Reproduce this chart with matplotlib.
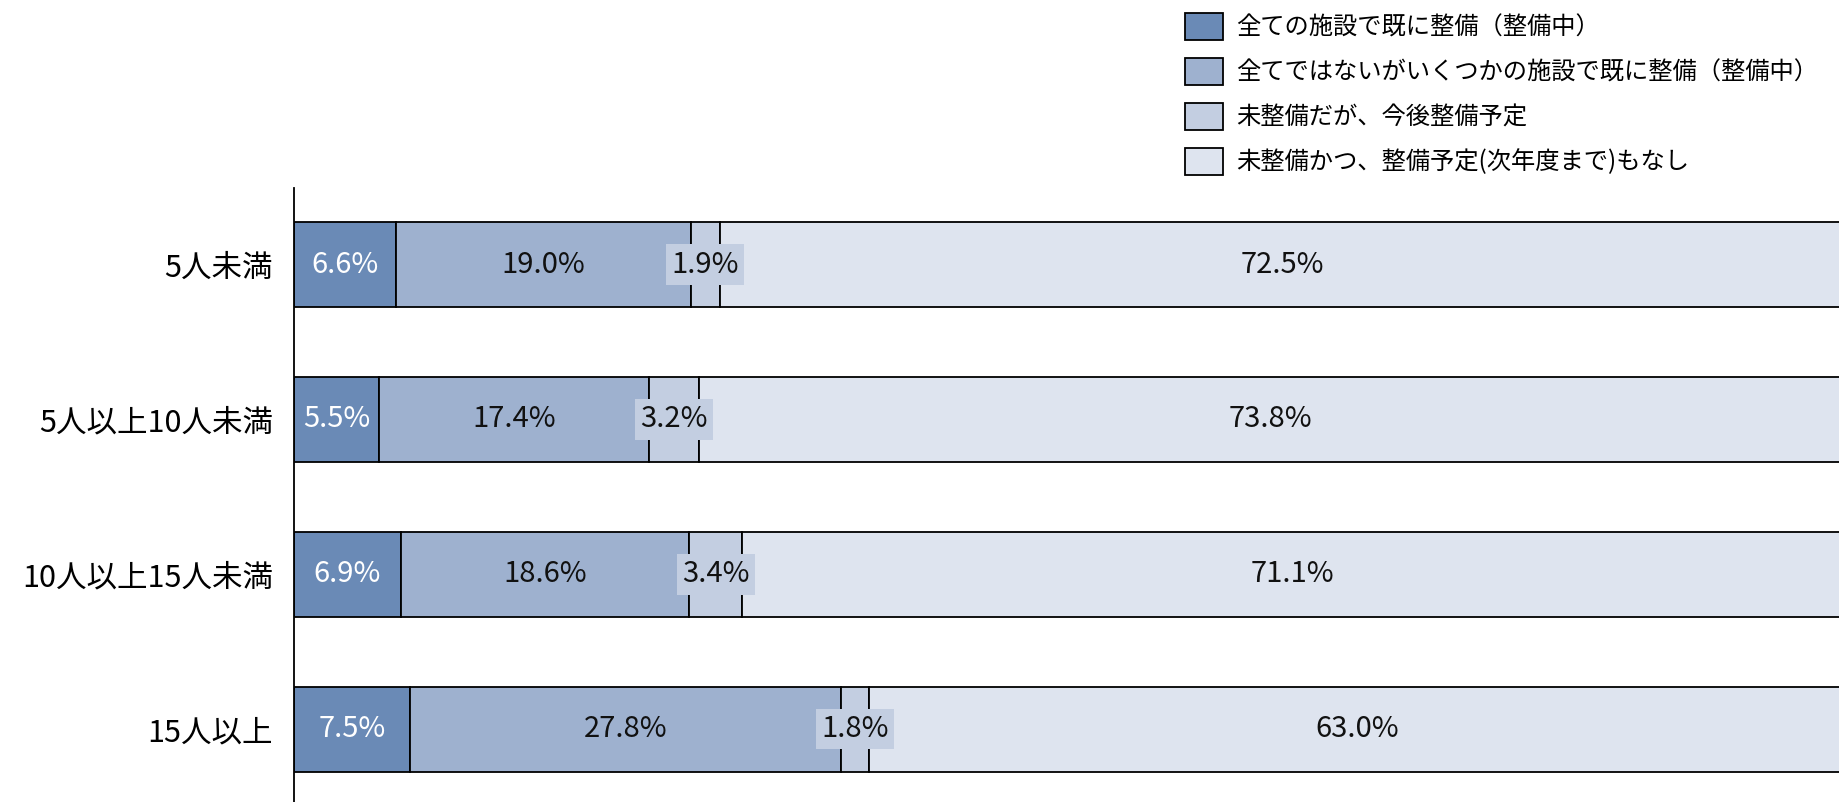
import matplotlib

matplotlib.use("Agg")
import matplotlib.pyplot as plt
import numpy as np
from matplotlib.patches import Patch

plt.rcParams["font.family"] = ["Noto Sans CJK JP", "DejaVu Sans"]

categories = ["5人未満", "5人以上10人未満", "10人以上15人未満", "15人以上"]
series_names = [
    "全ての施設で既に整備（整備中）",
    "全てではないがいくつかの施設で既に整備（整備中）",
    "未整備だが、今後整備予定",
    "未整備かつ、整備予定(次年度まで)もなし",
]
all_done = [6.6, 5.5, 6.9, 7.5]
some_done = [19.0, 17.4, 18.6, 27.8]
planned = [1.9, 3.2, 3.4, 1.8]
not_planned = [72.5, 73.8, 71.1, 63.0]

colors = ["#6A8AB6", "#9EB1CF", "#C3CEE1", "#DEE4EF"]
text_colors = ["white", "#111111", "#111111", "#111111"]

fig = plt.figure(figsize=(18.4, 8.02), dpi=100)
ax = fig.add_axes([294 / 1840, 0, 1 - 294 / 1840, 1 - 188 / 802])

y = np.arange(len(categories))
left = np.zeros(len(categories))
for vals, color, tcol in zip(
    [all_done, some_done, planned, not_planned], colors, text_colors
):
    vals = np.array(vals)
    ax.barh(y, vals, left=left, height=0.55, color=color,
            edgecolor="black", linewidth=1.3)
    for yi, l, v in zip(y, left, vals):
        ax.text(l + v / 2, yi, f"{v:.1f}%", ha="center", va="center",
                fontsize=21, color=tcol,
                bbox=dict(boxstyle="square,pad=0.18", fc=color, ec="none"))
    left += vals

# bars run past the right edge, as in the source chart
ax.set_xlim(0, 99.75)
ax.set_ylim(3.47, -0.494)
ax.set_yticks(y)
ax.set_yticklabels(categories, fontsize=22)
ax.tick_params(axis="y", length=0, pad=15)
ax.set_xticks([])
for s in ["top", "right", "bottom"]:
    ax.spines[s].set_visible(False)
ax.spines["left"].set_linewidth(1.3)

handles = [Patch(facecolor=c, edgecolor="black", linewidth=1.3) for c in colors]
fig.legend(handles, series_names, loc="upper left",
           bbox_to_anchor=(1172 / 1840, 1.0), frameon=False, fontsize=17.5,
           handlelength=1.55, handleheight=1.3, handletextpad=0.55,
           labelspacing=0.72, borderaxespad=0.15)

fig.savefig("out.png", dpi=100)
